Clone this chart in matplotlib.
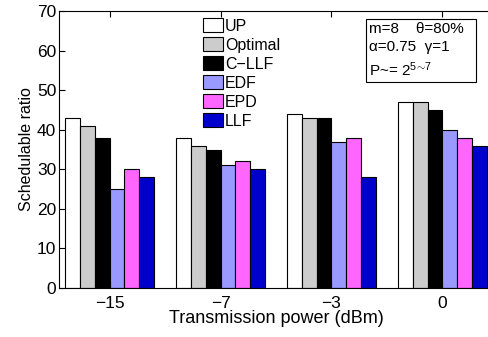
import numpy as np
import matplotlib
matplotlib.use('Agg')
import matplotlib.pyplot as plt

plt.rcParams['font.family'] = ['Liberation Sans', 'DejaVu Sans']
plt.rcParams['mathtext.fontset'] = 'custom'
plt.rcParams['mathtext.rm'] = 'Liberation Sans'
plt.rcParams['mathtext.it'] = 'Liberation Sans'

powers = ['\u221215', '\u22127', '\u22123', '0']
methods = ['UP', 'Optimal', 'C\u2212LLF', 'EDF', 'EPD', 'LLF']
up = [43, 38, 44, 47]
optimal = [41, 36, 43, 47]
c_llf = [38, 35, 43, 45]
edf = [25, 31, 37, 40]
epd = [30, 32, 38, 38]
llf = [28, 30, 28, 36]

colors = ['white', '#cccccc', 'black', '#9999ff', '#ff66ff', '#0000cc']

fig = plt.figure(figsize=(4.88, 3.37), dpi=100)
ax = fig.add_axes([59 / 488, 1 - 288 / 337, 434 / 488, 277 / 337])

x = np.arange(1, len(powers) + 1)
w = 0.134
series = [up, optimal, c_llf, edf, epd, llf]
for i, (vals, name) in enumerate(zip(series, methods)):
    ax.bar(x + (i - 2.5) * w, vals, w, color=colors[i], edgecolor='black',
           linewidth=0.8, label=name)

ax.set_xlim(0.545, 4.455)
ax.set_ylim(0, 70)
ax.set_xticks(x)
ax.set_xticklabels(powers)
ax.set_yticks(range(0, 71, 10))
ax.tick_params(direction='in', top=True, right=False, labelsize=12.5, length=4)
ax.tick_params(axis='x', pad=6)
ax.tick_params(axis='y', pad=2)
ax.set_xlabel('Transmission power (dBm)', fontsize=13, labelpad=-1)
ax.set_ylabel('Schedulable ratio', fontsize=11.5, labelpad=2)

leg = ax.legend(loc='upper left', bbox_to_anchor=(0.316, 1.0), frameon=False,
                fontsize=11.5, handlelength=1.25, handleheight=0.95, handletextpad=0.1,
                labelspacing=0.23, borderaxespad=0.25, borderpad=0.2)

ax.text(0.715, 0.96, 'm=8    \u03b8=80%  \n\u03b1=0.75  \u03b3=1\nP~= $2^{5\\!\\sim\\!7}$',
        transform=ax.transAxes, fontsize=11, va='top', ha='left', linespacing=1.4,
        bbox=dict(boxstyle='square,pad=0.2', facecolor='white', edgecolor='black', linewidth=0.8))

fig.savefig('out.png', dpi=100)
